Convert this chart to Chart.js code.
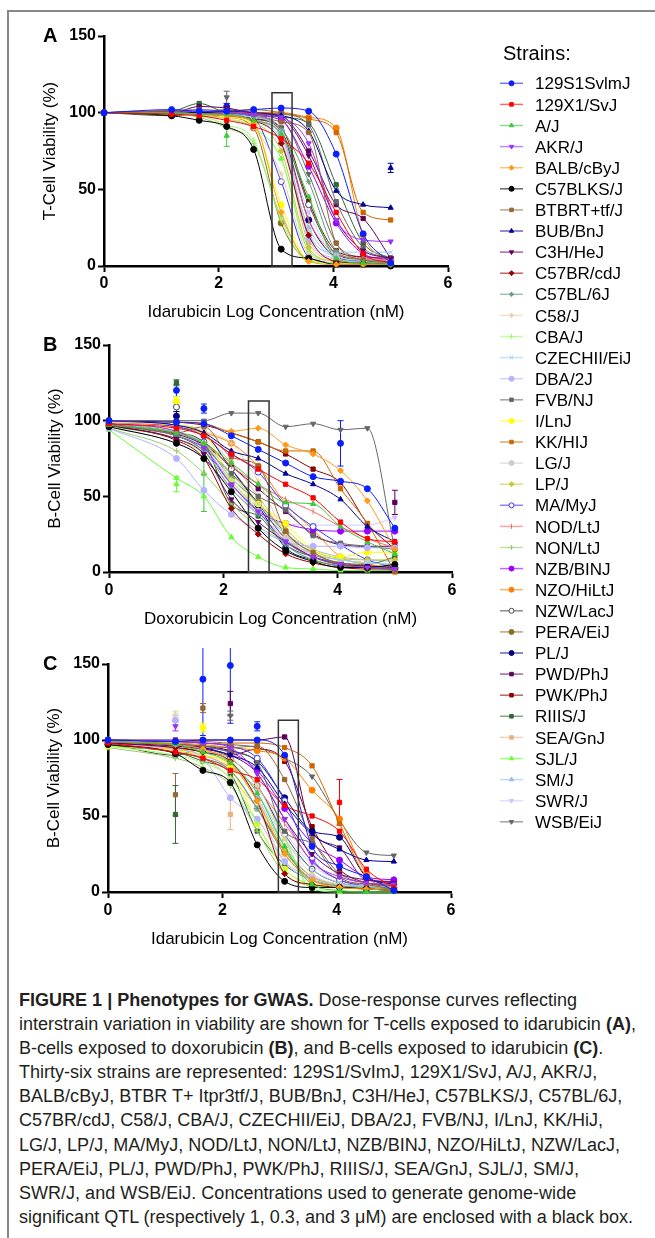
<!DOCTYPE html>
<html>
<head>
<meta charset="utf-8">
<script src="https://cdn.jsdelivr.net/npm/chart.js@4.4.0/dist/chart.umd.min.js"></script>
<style>
body { margin: 0; background: #fff; width: 655px; height: 1238px; overflow: hidden; position: relative; font-family: "Liberation Sans", Arial, sans-serif; }
#frame { position: absolute; left: 7px; top: 10px; width: 660px; height: 1240px; border-left: 2px solid #888; border-top: 2px solid #888; }
canvas { position: absolute; left: 0; }
.letter { position: absolute; left: 43px; font-weight: bold; font-size: 20px; line-height: 20px; color: #000; }
#caption { position: absolute; left: 19px; top: 988px; color: #231f20; font-size: 18px; transform-origin: 0 0; }
#caption div { height: 24.1px; line-height: 24px; white-space: nowrap; }
</style>
</head>
<body>
<div id="frame"></div>
<canvas id="chart_a" width="470" height="310" style="top:20px"></canvas>
<canvas id="chart_b" width="470" height="310" style="top:329px"></canvas>
<canvas id="chart_c" width="470" height="312" style="top:648px"></canvas>
<canvas id="legend" width="175" height="810" style="left:480px;top:30px"></canvas>
<div class="letter" style="top:25px">A</div>
<div class="letter" style="top:334px">B</div>
<div class="letter" style="top:653px">C</div>
<div id="caption">
<div><b>FIGURE 1 | Phenotypes for GWAS.</b> Dose-response curves reflecting</div>
<div id="cap_wide">interstrain variation in viability are shown for T-cells exposed to idarubicin <b>(A)</b>,</div>
<div>B-cells exposed to doxorubicin <b>(B)</b>, and B-cells exposed to idarubicin <b>(C)</b>.</div>
<div>Thirty-six strains are represented: 129S1/SvImJ, 129X1/SvJ, A/J, AKR/J,</div>
<div>BALB/cByJ, BTBR T+ Itpr3tf/J, BUB/BnJ, C3H/HeJ, C57BLKS/J, C57BL/6J,</div>
<div>C57BR/cdJ, C58/J, CBA/J, CZECHII/EiJ, DBA/2J, FVB/NJ, I/LnJ, KK/HiJ,</div>
<div>LG/J, LP/J, MA/MyJ, NOD/LtJ, NON/LtJ, NZB/BINJ, NZO/HiLtJ, NZW/LacJ,</div>
<div>PERA/EiJ, PL/J, PWD/PhJ, PWK/PhJ, RIIIS/J, SEA/GnJ, SJL/J, SM/J,</div>
<div>SWR/J, and WSB/EiJ. Concentrations used to generate genome-wide</div>
<div>significant QTL (respectively 1, 0.3, and 3 μM) are enclosed with a black box.</div>
</div>
<script>
// log concentrations (nM) used on every panel
var doses = [0, 1.18, 1.66, 2.14, 2.61, 3.09, 3.57, 4.05, 4.52, 5.0]
var xTicks = [0, 2, 4, 6]
var yTicks = [0, 50, 100, 150]

var strains = ['129S1SvlmJ', '129X1/SvJ', 'A/J', 'AKR/J', 'BALB/cByJ', 'C57BLKS/J', 'BTBRT+tf/J', 'BUB/BnJ',
    'C3H/HeJ', 'C57BR/cdJ', 'C57BL/6J', 'C58/J', 'CBA/J', 'CZECHII/EiJ', 'DBA/2J', 'FVB/NJ', 'I/LnJ', 'KK/HIJ',
    'LG/J', 'LP/J', 'MA/MyJ', 'NOD/LtJ', 'NON/LtJ', 'NZB/BINJ', 'NZO/HiLtJ', 'NZW/LacJ', 'PERA/EiJ', 'PL/J',
    'PWD/PhJ', 'PWK/PhJ', 'RIIIS/J', 'SEA/GnJ', 'SJL/J', 'SM/J', 'SWR/J', 'WSB/EiJ']

// A: T-cells, idarubicin
var viabilityA = [
    [100, 102, 101, 101, 102, 103, 101, 73, 21, 2],
    [100, 99, 98, 95, 91, 83, 67, 35, 8, 2],
    [100, 100, 99, 99, 95, 86, 45, 5, 2, 1],
    [100, 100, 101, 100, 99, 97, 80, 30, 17, 16],
    [100, 100, 99, 98, 93, 35, 3, 1, 1, 1],
    [100, 98, 95, 91, 76, 11, 5, 1, 1, 0],
    [100, 101, 99, 100, 99, 94, 87, 15, 4, 2],
    [100, 100, 100, 100, 99, 98, 88, 49, 40, 38],
    [100, 101, 100, 101, 100, 97, 72, 30, 10, 5],
    [100, 100, 99, 98, 95, 80, 20, 3, 2, 1],
    [100, 101, 100, 100, 98, 90, 55, 10, 4, 3],
    [100, 99, 98, 96, 90, 60, 8, 3, 2, 1],
    [100, 99, 98, 92, 82, 30, 3, 2, 1, 1],
    [100, 100, 99, 98, 95, 82, 20, 9, 9, 9],
    [100, 100, 99, 99, 97, 88, 18, 5, 3, 2],
    [100, 101, 102, 101, 100, 99, 92, 42, 12, 5],
    [100, 99, 99, 97, 92, 40, 4, 2, 1, 1],
    [100, 101, 100, 101, 102, 100, 96, 87, 35, 30],
    [100, 100, 99, 98, 97, 85, 22, 6, 4, 3],
    [100, 100, 99, 98, 94, 75, 12, 3, 2, 2],
    [100, 100, 99, 99, 96, 55, 6, 2, 1, 1],
    [100, 100, 99, 98, 95, 86, 30, 8, 5, 4],
    [100, 99, 97, 90, 80, 32, 4, 2, 1, 1],
    [100, 100, 100, 99, 98, 95, 65, 28, 8, 4],
    [100, 100, 100, 101, 100, 100, 97, 90, 20, 3],
    [100, 98, 99, 98, 96, 88, 40, 8, 4, 3],
    [100, 99, 98, 97, 90, 28, 4, 2, 1, 1],
    [100, 100, 100, 99, 97, 88, 30, 6, 3, 2],
    [100, 100, 104, 103, 100, 98, 75, 40, 31, 5],
    [100, 100, 99, 98, 96, 90, 42, 10, 6, 5],
    [100, 101, 106, 100, 99, 97, 93, 53, 15, 5],
    [100, 101, 100, 99, 95, 85, 15, 4, 2, 1],
    [100, 99, 98, 96, 90, 70, 10, 3, 2, 1],
    [100, 100, 99, 98, 96, 80, 25, 6, 4, 3],
    [100, 100, 99, 99, 97, 86, 35, 8, 5, 4],
    [100, 99, 100, 102, 100, 96, 60, 15, 5, 3]
]

// B: B-cells, doxorubicin
var viabilityB = [
    [100, 99, 98, 90, 81, 72, 63, 60, 55, 29],
    [98, 95, 90, 78, 68, 58, 49, 33, 22, 20],
    [97, 92, 85, 72, 58, 46, 45, 30, 20, 12],
    [98, 93, 82, 58, 40, 20, 10, 5, 3, 2],
    [100, 99, 98, 93, 95, 84, 78, 67, 47, 15],
    [96, 85, 75, 53, 29, 14, 7, 3, 3, 5],
    [98, 92, 96, 76, 70, 27, 13, 5, 3, 1],
    [100, 97, 92, 80, 75, 65, 58, 48, 30, 20],
    [97, 88, 78, 48, 33, 20, 10, 5, 4, 3],
    [97, 87, 75, 42, 25, 12, 6, 3, 2, 2],
    [98, 90, 80, 55, 38, 18, 8, 4, 3, 3],
    [99, 97, 93, 85, 60, 25, 10, 5, 3, 2],
    [96, 88, 78, 60, 40, 18, 8, 5, 3, 3],
    [98, 92, 85, 62, 45, 25, 12, 8, 6, 5],
    [95, 75, 54, 38, 28, 20, 17, 17, 16, 16],
    [98, 90, 82, 65, 50, 41, 24, 19, 17, 15],
    [99, 97, 92, 60, 45, 32, 15, 10, 13, 13],
    [100, 99, 98, 92, 86, 80, 80, 55, 32, 0],
    [97, 88, 80, 60, 40, 22, 12, 8, 6, 5],
    [98, 93, 85, 65, 45, 28, 14, 9, 8, 8],
    [99, 96, 90, 78, 66, 44, 30, 18, 8, 3],
    [97, 92, 85, 70, 58, 48, 40, 30, 22, 16],
    [95, 80, 65, 45, 30, 20, 12, 8, 6, 5],
    [98, 90, 80, 58, 40, 32, 28, 27, 27, 27],
    [99, 96, 92, 85, 70, 45, 28, 10, 5, 3],
    [97, 92, 86, 68, 45, 22, 10, 5, 3, 2],
    [98, 92, 84, 62, 46, 26, 12, 6, 4, 3],
    [100, 97, 92, 68, 44, 16, 8, 4, 3, 2],
    [97, 91, 84, 70, 55, 40, 25, 18, 17, 17],
    [100, 99, 97, 92, 86, 78, 68, 59, 32, 15],
    [98, 92, 85, 45, 37, 18, 10, 6, 5, 10],
    [99, 96, 90, 72, 50, 25, 10, 5, 3, 2],
    [94, 62, 50, 23, 10, 3, 2, 1, 1, 1],
    [97, 90, 82, 60, 42, 25, 15, 10, 8, 7],
    [96, 85, 75, 55, 38, 32, 31, 31, 31, 36],
    [100, 100, 100, 105, 105, 96, 98, 94, 95, 15]
]

// C: B-cells, idarubicin
var viabilityC = [
    [100, 99, 100, 100, 100, 90, 30, 17, 10, 1],
    [98, 92, 88, 80, 74, 57, 50, 40, 15, 3],
    [99, 97, 92, 85, 65, 30, 5, 1, 0, 0],
    [100, 99, 98, 95, 78, 48, 20, 10, 6, 5],
    [99, 97, 94, 85, 60, 25, 8, 3, 2, 1],
    [97, 91, 80, 72, 31, 7, 3, 3, 2, 1],
    [99, 97, 96, 95, 96, 74, 35, 10, 5, 2],
    [99, 97, 95, 90, 82, 58, 38, 28, 21, 20],
    [98, 96, 94, 90, 78, 48, 25, 12, 8, 6],
    [98, 95, 92, 86, 60, 12, 5, 3, 2, 1],
    [97, 92, 88, 80, 55, 25, 8, 4, 3, 2],
    [98, 96, 93, 88, 70, 35, 12, 5, 3, 2],
    [96, 90, 85, 75, 45, 15, 5, 3, 2, 2],
    [98, 96, 93, 86, 65, 35, 15, 6, 4, 3],
    [97, 94, 88, 62, 48, 20, 10, 5, 4, 3],
    [99, 97, 96, 92, 85, 40, 32, 12, 6, 4],
    [96, 93, 90, 82, 45, 15, 5, 4, 3, 2],
    [100, 99, 99, 98, 98, 95, 83, 45, 10, 3],
    [98, 94, 90, 80, 55, 20, 8, 4, 3, 2],
    [98, 95, 90, 84, 60, 28, 10, 5, 3, 2],
    [100, 99, 98, 96, 88, 60, 22, 8, 4, 2],
    [98, 94, 90, 82, 68, 45, 20, 8, 5, 3],
    [95, 88, 82, 70, 40, 12, 4, 3, 2, 2],
    [99, 97, 95, 92, 80, 55, 32, 21, 10, 8],
    [99, 98, 97, 95, 93, 88, 67, 48, 12, 3],
    [98, 90, 94, 88, 70, 38, 15, 6, 4, 3],
    [97, 92, 88, 80, 55, 27, 8, 4, 3, 2],
    [99, 97, 96, 93, 86, 62, 40, 36, 10, 5],
    [100, 100, 100, 100, 100, 102, 40, 29, 8, 7],
    [98, 95, 93, 90, 94, 86, 43, 15, 6, 3],
    [96, 92, 86, 78, 40, 18, 8, 4, 3, 2],
    [97, 93, 88, 75, 55, 27, 10, 5, 3, 2],
    [98, 95, 92, 88, 70, 35, 2, 0, 0, 0],
    [98, 95, 92, 86, 62, 30, 10, 5, 3, 2],
    [98, 95, 93, 88, 70, 40, 18, 8, 5, 4],
    [100, 99, 98, 97, 95, 88, 76, 47, 26, 24]
]

// single replicate means that sit off their fitted curve: [strain, dose, value, error]
var outliersA = [[7, 5.0, 64, 3], [35, 2.14, 110, 4], [2, 2.14, 85, 7], [0, 2.14, 104, 2]]
var outliersB = [[0, 1.18, 120, 4], [30, 1.18, 125, 2], [16, 1.18, 113, 3], [25, 1.18, 109, 3],
    [27, 1.18, 103, 3], [0, 1.66, 108, 3], [0, 4.05, 85, 15], [28, 5.0, 46, 8], [2, 1.66, 65, 25], [32, 1.18, 58, 5]]
var outliersC = [[0, 1.66, 140, 37], [0, 2.14, 149, 38], [0, 2.61, 109, 3], [28, 2.14, 124, 8], [35, 2.14, 116, 3],
    [6, 1.66, 121, 3], [6, 1.18, 64, 14], [30, 1.18, 51, 19], [11, 1.18, 117, 2], [14, 1.18, 113, 3],
    [3, 1.18, 109, 3], [16, 1.66, 108, 3], [1, 4.05, 59, 15], [31, 2.14, 51, 10]]

// concentration window [from, to, height] of the boxed QTL dose
var qtlBoxA = [2.93, 3.28, 113]
var qtlBoxB = [2.44, 2.80, 113]
var qtlBoxC = [2.98, 3.33, 113]

var strainColor = ['#0a1eff', '#ff0000', '#3cc83c', '#9933ff', '#ff9a1a', '#000000', '#996633', '#000099',
    '#660066', '#990000', '#5f9a7a', '#e8cfa6', '#99ff66', '#99ccff', '#b3b3ff', '#666666', '#ffff00', '#cc6600',
    '#cccccc', '#c8c832', '#3333ff', '#ff6666', '#99cc66', '#9900ff', '#ff8000', '#444444', '#8c6a1e', '#000080',
    '#5c005c', '#8b0000', '#336633', '#e6b380', '#66ff33', '#99bbee', '#c8c8ff', '#666666']
var strainMarker = ['circle', 'rect', 'triangle', 'down', 'rectRot', 'circle', 'rect', 'triangle',
    'down', 'rectRot', 'star', 'star', 'cross', 'crossRot', 'circle', 'rect', 'circle', 'rect',
    'circle', 'rectRot', 'open', 'line', 'cross', 'circle', 'circle', 'open', 'circle', 'circle',
    'rect', 'rect', 'rect', 'rect', 'triangle', 'triangle', 'down', 'down']

function marker_style(i) {
    var m = strainMarker[i]
    if (m == 'down') return { style: 'triangle', rot: 180, fill: strainColor[i] }
    if (m == 'open') return { style: 'circle', rot: 0, fill: '#fff' }
    if (m == 'line') return { style: 'line', rot: 90, fill: strainColor[i] }
    return { style: m, rot: 0, fill: strainColor[i] }
}

var qtl_box = {
    id: 'qtl_box',
    beforeDatasetsDraw: function (chart, args, opts) {
        // error bars of the off-curve points
        var ctx = chart.ctx, x = chart.scales.x, y = chart.scales.y
        ctx.save()
        ctx.lineWidth = 1
        opts.outliers.forEach(function (o) {
            var px = x.getPixelForValue(o[1])
            var y0 = y.getPixelForValue(o[2] - o[3]), y1 = y.getPixelForValue(o[2] + o[3])
            ctx.strokeStyle = strainColor[o[0]]
            ctx.beginPath()
            ctx.moveTo(px, y0); ctx.lineTo(px, y1)
            ctx.moveTo(px - 3, y0); ctx.lineTo(px + 3, y0)
            ctx.moveTo(px - 3, y1); ctx.lineTo(px + 3, y1)
            ctx.stroke()
        })
        ctx.restore()
    },
    afterDatasetsDraw: function (chart, args, opts) {
        var ctx = chart.ctx, x = chart.scales.x, y = chart.scales.y
        var b = opts.box
        var left = x.getPixelForValue(b[0]), right = x.getPixelForValue(b[1])
        var top = y.getPixelForValue(b[2]), bottom = y.getPixelForValue(0)
        ctx.save()
        ctx.strokeStyle = '#333'
        ctx.lineWidth = 1.5
        ctx.strokeRect(left, top, right - left, bottom - top)
        ctx.restore()
    }
}

function chart_panel_create(id, values, outliers, box, y_title, x_title, lay) {
    var datasets = values.map(function (row, i) {
        var m = marker_style(i)
        return {
            label: strains[i],
            data: row.map(function (v, j) { return { x: doses[j], y: v } }),
            borderColor: strainColor[i],
            backgroundColor: m.fill,
            pointBorderColor: strainColor[i],
            borderWidth: 1,
            pointStyle: m.style,
            rotation: m.rot,
            pointRadius: 3,
            pointBorderWidth: 1,
            cubicInterpolationMode: 'monotone',
            clip: false
        }
    })
    outliers.forEach(function (o) {
        var m = marker_style(o[0])
        datasets.push({
            data: [{ x: o[1], y: o[2] }],
            showLine: false,
            borderColor: strainColor[o[0]],
            backgroundColor: m.fill,
            pointStyle: m.style,
            rotation: m.rot,
            pointRadius: 3,
            pointBorderWidth: 1,
            clip: false
        })
    })

    new Chart(document.getElementById(id), {
        type: 'line',
        data: { datasets: datasets },
        plugins: [qtl_box],
        options: {
            responsive: false,
            animation: false,
            events: [],
            layout: { padding: { left: lay.left, top: 16, right: lay.right, bottom: 0 } },
            plugins: {
                legend: { display: false },
                tooltip: { enabled: false },
                qtl_box: { box: box, outliers: outliers }
            },
            scales: {
                x: {
                    type: 'linear',
                    min: 0,
                    max: 6,
                    afterBuildTicks: function (scale) {
                        scale.ticks = xTicks.map(function (v) { return { value: v } })
                    },
                    afterFit: function (scale) { scale.height = lay.xh },
                    grid: { drawOnChartArea: false, drawTicks: true, tickLength: 6, tickWidth: 2, color: '#000' },
                    border: { display: true, color: '#000', width: 2.5 },
                    ticks: { color: '#000', padding: lay.tp, maxRotation: 0, font: { family: 'Liberation Sans', size: 16, weight: 'bold' } },
                    title: { display: true, text: x_title, color: '#000', padding: { top: 0, bottom: lay.xt }, font: { family: 'Liberation Sans', size: 17 } }
                },
                y: {
                    min: 0,
                    max: 150,
                    afterBuildTicks: function (scale) {
                        scale.ticks = yTicks.map(function (v) { return { value: v } })
                    },
                    afterFit: function (scale) { scale.width = 74 },
                    grid: { drawOnChartArea: false, drawTicks: true, tickLength: 6, tickWidth: 2, color: '#000' },
                    border: { display: true, color: '#000', width: 2.5 },
                    ticks: { color: '#000', padding: 2, font: { family: 'Liberation Sans', size: 16, weight: 'bold' } },
                    title: { display: true, text: y_title, color: '#000', padding: { top: 10, bottom: 0 }, font: { family: 'Liberation Sans', size: 17 } }
                }
            }
        }
    })
}

chart_panel_create('chart_a', viabilityA, outliersA, qtlBoxA, 'T-Cell Viability (%)', 'Idarubicin Log Concentration (nM)',
    { left: 30, right: 22, xh: 64, tp: 2, xt: 7 })
chart_panel_create('chart_b', viabilityB, outliersB, qtlBoxB, 'B-Cell Viability (%)', 'Doxorubicin Log Concentration (nM)',
    { left: 35, right: 18, xh: 67, tp: 3, xt: 9 })
chart_panel_create('chart_c', viabilityC, outliersC, qtlBoxC, 'B-Cell Viability (%)', 'Idarubicin Log Concentration (nM)',
    { left: 34, right: 19, xh: 68, tp: 3, xt: 10 })

// shared strain legend
function legend_draw() {
    var ctx = document.getElementById('legend').getContext('2d')
    ctx.fillStyle = '#000'
    ctx.font = '20px "Liberation Sans"'
    ctx.textBaseline = 'middle'
    ctx.fillText('Strains:', 23, 24)
    ctx.font = '17px "Liberation Sans"'
    strains.forEach(function (name, i) {
        var y = 53.3 + i * 21.1
        var m = marker_style(i)
        ctx.save()
        ctx.globalAlpha = 0.6
        ctx.strokeStyle = strainColor[i]
        ctx.lineWidth = 1.5
        ctx.beginPath(); ctx.moveTo(20, y); ctx.lineTo(43, y); ctx.stroke()
        ctx.restore()
        ctx.strokeStyle = strainColor[i]
        ctx.fillStyle = m.fill
        ctx.lineWidth = 1
        if (Chart.helpers && Chart.helpers.drawPoint) {
            Chart.helpers.drawPoint(ctx, { pointStyle: m.style, rotation: m.rot, radius: 2.5, borderWidth: 1 }, 31.5, y)
        } else {
            ctx.beginPath(); ctx.arc(31.5, y, 2.5, 0, Math.PI * 2); ctx.fill()
        }
        ctx.fillStyle = '#000'
        ctx.fillText(name, 55, y + 1.5)
    })
}
legend_draw()

// caption set in a condensed face: squeeze the widest line to the column width
var cap = document.getElementById('caption')
var wide = document.getElementById('cap_wide')
var sx = 617 / wide.scrollWidth
cap.style.transform = 'scaleX(' + sx + ')'
</script>
</body>
</html>
